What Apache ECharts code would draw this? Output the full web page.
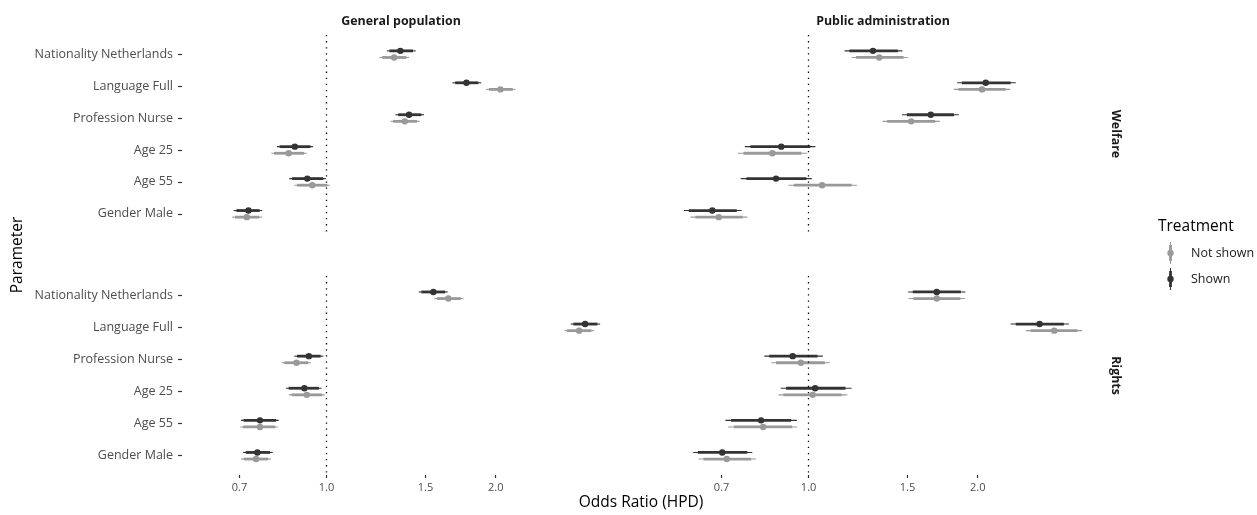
<!DOCTYPE html>
<html>
<head>
<meta charset="utf-8">
<script src="https://cdn.jsdelivr.net/npm/echarts@6/dist/echarts.min.js"></script>
<style>
  html, body { margin: 0; padding: 0; background: #ffffff; }
  #chart { width: 1257px; height: 515px; }
</style>
</head>
<body>
<div id="chart"></div>
<script>
// Facet labels, parameters and tick labels
const parameters = ['Nationality Netherlands', 'Language Full', 'Profession Nurse', 'Age 25', 'Age 55', 'Gender Male'];
const samples = ['General population', 'Public administration'];
const domains = ['Welfare', 'Rights'];
const treatments = ['Not shown', 'Shown'];
const oddsTicks = [0.7, 1.0, 1.5, 2.0];

// Posterior odds ratios, one row per parameter:
// [median, lower 95%, lower inner, upper inner, upper 95%]
const welfareGeneralNotShown = [
  [1.319, 1.242, 1.256, 1.386, 1.402],
  [2.039, 1.923, 1.945, 2.144, 2.168],
  [1.378, 1.299, 1.313, 1.449, 1.465],
  [0.856, 0.797, 0.806, 0.912, 0.922],
  [0.943, 0.876, 0.886, 1.003, 1.014],
  [0.721, 0.679, 0.687, 0.759, 0.768]
];
const welfareGeneralShown = [
  [1.353, 1.280, 1.294, 1.425, 1.441],
  [1.774, 1.675, 1.694, 1.863, 1.884],
  [1.402, 1.326, 1.341, 1.474, 1.491],
  [0.878, 0.816, 0.825, 0.936, 0.946],
  [0.924, 0.858, 0.868, 0.986, 0.997],
  [0.726, 0.683, 0.691, 0.760, 0.768]
];
const welfarePublicNotShown = [
  [1.336, 1.193, 1.214, 1.476, 1.502],
  [2.036, 1.813, 1.848, 2.243, 2.286],
  [1.523, 1.354, 1.380, 1.680, 1.712],
  [0.862, 0.748, 0.766, 0.971, 0.994],
  [1.057, 0.921, 0.941, 1.193, 1.219],
  [0.692, 0.616, 0.629, 0.763, 0.778]
];
const welfarePublicShown = [
  [1.302, 1.159, 1.182, 1.442, 1.469],
  [2.067, 1.838, 1.874, 2.289, 2.337],
  [1.650, 1.466, 1.496, 1.815, 1.851],
  [0.894, 0.770, 0.788, 1.007, 1.028],
  [0.875, 0.757, 0.775, 0.991, 1.013],
  [0.674, 0.600, 0.612, 0.745, 0.760]
];
const rightsGeneralNotShown = [
  [1.647, 1.555, 1.572, 1.733, 1.752],
  [2.815, 2.650, 2.679, 2.960, 2.993],
  [0.884, 0.832, 0.841, 0.928, 0.938],
  [0.922, 0.857, 0.866, 0.982, 0.993],
  [0.761, 0.702, 0.710, 0.810, 0.819],
  [0.749, 0.704, 0.712, 0.787, 0.796]
];
const rightsGeneralShown = [
  [1.549, 1.459, 1.475, 1.625, 1.643],
  [2.885, 2.720, 2.750, 3.034, 3.068],
  [0.930, 0.876, 0.886, 0.976, 0.987],
  [0.913, 0.847, 0.856, 0.969, 0.980],
  [0.761, 0.704, 0.712, 0.813, 0.822],
  [0.753, 0.710, 0.718, 0.793, 0.802]
];
const rightsPublicNotShown = [
  [1.691, 1.506, 1.536, 1.862, 1.898],
  [2.737, 2.437, 2.484, 3.011, 3.069],
  [0.969, 0.858, 0.875, 1.069, 1.092],
  [1.017, 0.884, 0.902, 1.145, 1.172],
  [0.830, 0.719, 0.736, 0.935, 0.955],
  [0.715, 0.637, 0.650, 0.790, 0.806]
];
const rightsPublicShown = [
  [1.691, 1.504, 1.533, 1.866, 1.902],
  [2.577, 2.289, 2.337, 2.847, 2.906],
  [0.937, 0.834, 0.851, 1.037, 1.060],
  [1.027, 0.892, 0.912, 1.163, 1.193],
  [0.823, 0.711, 0.728, 0.931, 0.953],
  [0.702, 0.623, 0.635, 0.778, 0.794]
];

// Facet grid: rows are domains, columns are samples
const panels = [
  { row: 0, col: 0, rows: { 'Not shown': welfareGeneralNotShown, 'Shown': welfareGeneralShown } },
  { row: 0, col: 1, rows: { 'Not shown': welfarePublicNotShown, 'Shown': welfarePublicShown } },
  { row: 1, col: 0, rows: { 'Not shown': rightsGeneralNotShown, 'Shown': rightsGeneralShown } },
  { row: 1, col: 1, rows: { 'Not shown': rightsPublicNotShown, 'Shown': rightsPublicShown } }
];

// Styling and layout
const FONT = '"Open Sans", "Noto Sans", sans-serif';
const colors = { 'Not shown': '#999999', 'Shown': '#333333' };
const dodge = { 'Not shown': 3.3, 'Shown': -3.3 };
const colLeft = [182, 664];
const colWidth = 438;
const rowTop = [35, 276];
const rowHeight = [198, 199];
const X_MIN = -0.5926;   // natural-log odds ratio
const X_MAX = 1.2025;

const ln = Math.log;
const tickValues = oddsTicks.map(v => ln(v));
const catValues = parameters.map((_, i) => i);

function renderInterval(dy, color) {
  return function (params, api) {
    const y = api.value(0);
    const mid = api.coord([api.value(1), y]);
    const lo = api.coord([api.value(2), y]);
    const loIn = api.coord([api.value(3), y]);
    const hiIn = api.coord([api.value(4), y]);
    const hi = api.coord([api.value(5), y]);
    const yy = mid[1] + dy;
    return {
      type: 'group',
      children: [
        { type: 'line', shape: { x1: lo[0], y1: yy, x2: hi[0], y2: yy }, style: { stroke: color, lineWidth: 1.1 } },
        { type: 'line', shape: { x1: loIn[0], y1: yy, x2: hiIn[0], y2: yy }, style: { stroke: color, lineWidth: 2.8 } },
        { type: 'circle', shape: { cx: mid[0], cy: yy, r: 3.2 }, style: { fill: color } }
      ]
    };
  };
}

const grid = [], xAxis = [], yAxis = [], series = [];
panels.forEach((p, k) => {
  grid.push({ left: colLeft[p.col], top: rowTop[p.row], width: colWidth, height: rowHeight[p.row] });
  const bottomRow = p.row === 1;
  const leftCol = p.col === 0;
  xAxis.push({
    type: 'value', gridIndex: k, min: X_MIN, max: X_MAX, position: 'bottom',
    axisLine: { show: false, onZero: false }, splitLine: { show: false },
    axisTick: { show: bottomRow, customValues: tickValues, length: 3, lineStyle: { color: '#333333', width: 1.2 } },
    axisLabel: {
      show: bottomRow, customValues: tickValues, margin: 7,
      color: '#4d4d4d', fontSize: 11, fontFamily: FONT,
      formatter: v => Math.exp(v).toFixed(1)
    }
  });
  yAxis.push({
    type: 'value', gridIndex: k, min: -0.6, max: 5.6, inverse: true, position: 'left',
    axisLine: { show: false, onZero: false }, splitLine: { show: false },
    axisTick: { show: leftCol, customValues: catValues, length: 4, lineStyle: { color: '#333333', width: 1.2 } },
    axisLabel: {
      show: leftCol, customValues: catValues, margin: 9,
      color: '#4d4d4d', fontSize: 12.5, fontFamily: FONT,
      formatter: v => parameters[Math.round(v)]
    }
  });
  // reference line at an odds ratio of 1
  series.push({
    type: 'line', xAxisIndex: k, yAxisIndex: k, data: [], silent: true, z: 1,
    markLine: {
      silent: true, symbol: ['none', 'none'], label: { show: false },
      lineStyle: { type: [1.3, 4.8], color: '#000000', width: 1.3 },
      data: [{ xAxis: 0 }]
    }
  });
  treatments.forEach(t => {
    series.push({
      type: 'custom', name: t, xAxisIndex: k, yAxisIndex: k, z: 2,
      renderItem: renderInterval(dodge[t], colors[t]),
      encode: { x: [1, 2, 5], y: 0 },
      data: p.rows[t].map((r, i) => [i, ln(r[0]), ln(r[1]), ln(r[2]), ln(r[3]), ln(r[4])])
    });
  });
});

// Strip labels, axis titles and legend
const graphic = [];
samples.forEach((s, c) => {
  graphic.push({
    type: 'text', x: colLeft[c] + colWidth / 2, y: 21,
    style: { text: s, fill: '#1a1a1a', font: 'bold 12.4px ' + FONT, textAlign: 'center', textVerticalAlign: 'middle' }
  });
});
domains.forEach((d, r) => {
  graphic.push({
    type: 'text', x: 1116, y: rowTop[r] + rowHeight[r] / 2, rotation: -Math.PI / 2,
    style: { text: d, fill: '#1a1a1a', font: 'bold 12.4px ' + FONT, textAlign: 'center', textVerticalAlign: 'middle' }
  });
});
graphic.push({
  type: 'text', x: 641, y: 503,
  style: { text: 'Odds Ratio (HPD)', fill: '#000000', font: '15.5px ' + FONT, textAlign: 'center', textVerticalAlign: 'middle' }
});
graphic.push({
  type: 'text', x: 18, y: 255, rotation: Math.PI / 2,
  style: { text: 'Parameter', fill: '#000000', font: '15.5px ' + FONT, textAlign: 'center', textVerticalAlign: 'middle' }
});
graphic.push({
  type: 'text', x: 1158, y: 227,
  style: { text: 'Treatment', fill: '#000000', font: '15.5px ' + FONT, textAlign: 'left', textVerticalAlign: 'middle' }
});
treatments.forEach((t, i) => {
  const cy = 253 + i * 26;
  const cx = 1170.5;
  graphic.push({ type: 'line', shape: { x1: cx, y1: cy - 11, x2: cx, y2: cy + 11 }, style: { stroke: colors[t], lineWidth: 1.1 } });
  graphic.push({ type: 'line', shape: { x1: cx, y1: cy - 8, x2: cx, y2: cy + 8 }, style: { stroke: colors[t], lineWidth: 2.8 } });
  graphic.push({ type: 'circle', shape: { cx: cx, cy: cy, r: 3.2 }, style: { fill: colors[t] } });
  graphic.push({
    type: 'text', x: 1191, y: cy,
    style: { text: t, fill: '#1a1a1a', font: '12.5px ' + FONT, textAlign: 'left', textVerticalAlign: 'middle' }
  });
});

const chart = echarts.init(document.getElementById('chart'), null, { renderer: 'canvas' });
chart.setOption({
  animation: false,
  backgroundColor: '#ffffff',
  textStyle: { fontFamily: FONT },
  grid, xAxis, yAxis, series, graphic
});
</script>
</body>
</html>
